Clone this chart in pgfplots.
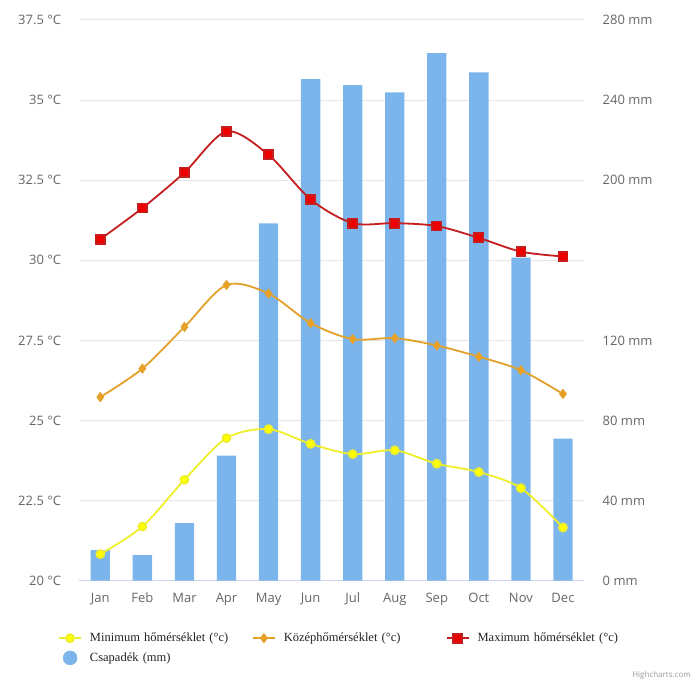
\documentclass[border=0pt]{standalone}
\usepackage{fontspec}
\setmainfont{Liberation Serif}
\newfontfamily\tickfont{Open Sans}
\usepackage{pgfplots}
\pgfplotsset{compat=1.18}
\definecolor{barblue}{HTML}{7CB5EC}
\definecolor{gridgray}{HTML}{E6E6E6}
\definecolor{axisline}{HTML}{CCD6EB}
\definecolor{tickgray}{HTML}{666666}
\definecolor{hcgray}{HTML}{999999}
\definecolor{minline}{HTML}{EEEE2A}
\definecolor{minmark}{HTML}{FFFF00}
\definecolor{meanline}{HTML}{E3A02A}
\definecolor{meanmark}{HTML}{EFA21E}
\definecolor{maxline}{HTML}{C41E1E}
\definecolor{maxmark}{HTML}{EE0000}
\definecolor{legtext}{HTML}{222222}
\begin{document}
\begin{tikzpicture}
\path[use as bounding box] (-79.3pt,-105.3pt) rectangle (614.7pt,580.7pt);
% precipitation axis (right)
\begin{axis}[
  at={(0pt,0pt)}, anchor=south west,
  scale only axis, width=504.7pt, height=560.7pt,
  xmin=0.5, xmax=12.5, ymin=0, ymax=280,
  axis y line*=right, axis x line*=bottom,
  y axis line style={draw=none},
  x axis line style={draw=axisline, line width=1pt},
  tick style={draw=none}, major tick length=0pt,
  xtick={1,2,3,4,5,6,7,8,9,10,11,12},
  xticklabels={Jan,Feb,Mar,Apr,May,Jun,Jul,Aug,Sep,Oct,Nov,Dec},
  ytick={0,40,80,120,160,200,240,280},
  yticklabels={0 mm,40 mm,80 mm,120 mm,,200 mm,240 mm,280 mm},
  ymajorgrids, grid style={draw=gridgray, line width=1pt},
  ticklabel style={font=\tickfont\fontsize{13}{15}\selectfont, text=tickgray},
  xticklabel style={anchor=base, inner sep=0pt, yshift=-22pt},
  yticklabel style={anchor=west, inner sep=0pt, xshift=18.5pt},
]
\addplot[ybar, bar width=19.3pt, fill=barblue, draw=none] coordinates {
 (1,15.3) (2,12.8) (3,28.7) (4,62.5) (5,178.5) (6,250.5)
 (7,247.5) (8,243.8) (9,263.5) (10,253.8) (11,161.3) (12,71)
};
\end{axis}
% temperature axis (left)
\begin{axis}[
  at={(0pt,0pt)}, anchor=south west,
  scale only axis, width=504.7pt, height=560.7pt,
  xmin=0.5, xmax=12.5, ymin=20, ymax=37.5,
  axis y line*=left, axis x line*=bottom,
  axis line style={draw=none},
  tick style={draw=none}, major tick length=0pt,
  xtick=\empty,
  ytick={20,22.5,25,27.5,30,32.5,35,37.5},
  yticklabels={20 °C,22.5 °C,25 °C,27.5 °C,30 °C,32.5 °C,35 °C,37.5 °C},
  ticklabel style={font=\tickfont\fontsize{13}{15}\selectfont, text=tickgray},
  yticklabel style={anchor=east, inner sep=0pt, xshift=-18pt},
  clip=false,
  legend image code/.code={\draw[mark repeat=2,mark phase=2,#1] plot coordinates {(0pt,0pt) (11pt,0pt) (22pt,0pt)};},
  legend cell align=left,
  legend style={draw=none, fill=none, legend columns=3,
    at={(axis description cs:-0.0422,-0.0906)}, anchor=north west,
    inner sep=0pt, row sep=6pt,
    font=\fontsize{12.5}{14}\selectfont, text=legtext,
    nodes={inner sep=0pt, text height=10pt, text depth=3pt, text width=162pt, align=left},
    /tikz/every odd column/.append style={column sep=8pt}},
]
\addplot[smooth, tension=0.5, color=minline, line width=1.8pt, mark=*, mark size=4pt,
  mark options={fill=minmark, draw=none}] coordinates {
 (1,20.83) (2,21.69) (3,23.15) (4,24.45) (5,24.73) (6,24.27)
 (7,23.95) (8,24.07) (9,23.65) (10,23.39) (11,22.89) (12,21.66)
};
\addlegendentry{Minimum hőmérséklet (°c)}
\addplot[smooth, tension=0.5, color=meanline, line width=1.8pt, mark=diamond*, mark size=3.8pt,
  mark options={fill=meanmark, draw=none}] coordinates {
 (1,25.73) (2,26.62) (3,27.92) (4,29.23) (5,28.96) (6,28.04)
 (7,27.54) (8,27.57) (9,27.34) (10,26.99) (11,26.57) (12,25.83)
};
\addlegendentry{Középhőmérséklet (°c)}
\addplot[smooth, tension=0.5, color=maxline, line width=1.8pt, mark=square*, mark size=4.5pt,
  mark options={fill=maxmark, draw=none}] coordinates {
 (1,30.66) (2,31.63) (3,32.74) (4,34.02) (5,33.29) (6,31.9)
 (7,31.16) (8,31.16) (9,31.07) (10,30.7) (11,30.27) (12,30.12)
};
\addlegendentry{Maximum hőmérséklet (°c)}
\addlegendimage{legend image code/.code={\path (0pt,0pt) (22pt,0pt); \fill[barblue] (11pt,0pt) circle (7pt);}}
\addlegendentry{Csapadék (mm)}
\end{axis}
\node[anchor=east, inner sep=0pt, font=\tickfont\fontsize{8}{9}\selectfont, text=hcgray] at (611.7pt,-94.3pt) {Highcharts.com};
\end{tikzpicture}
\end{document}
